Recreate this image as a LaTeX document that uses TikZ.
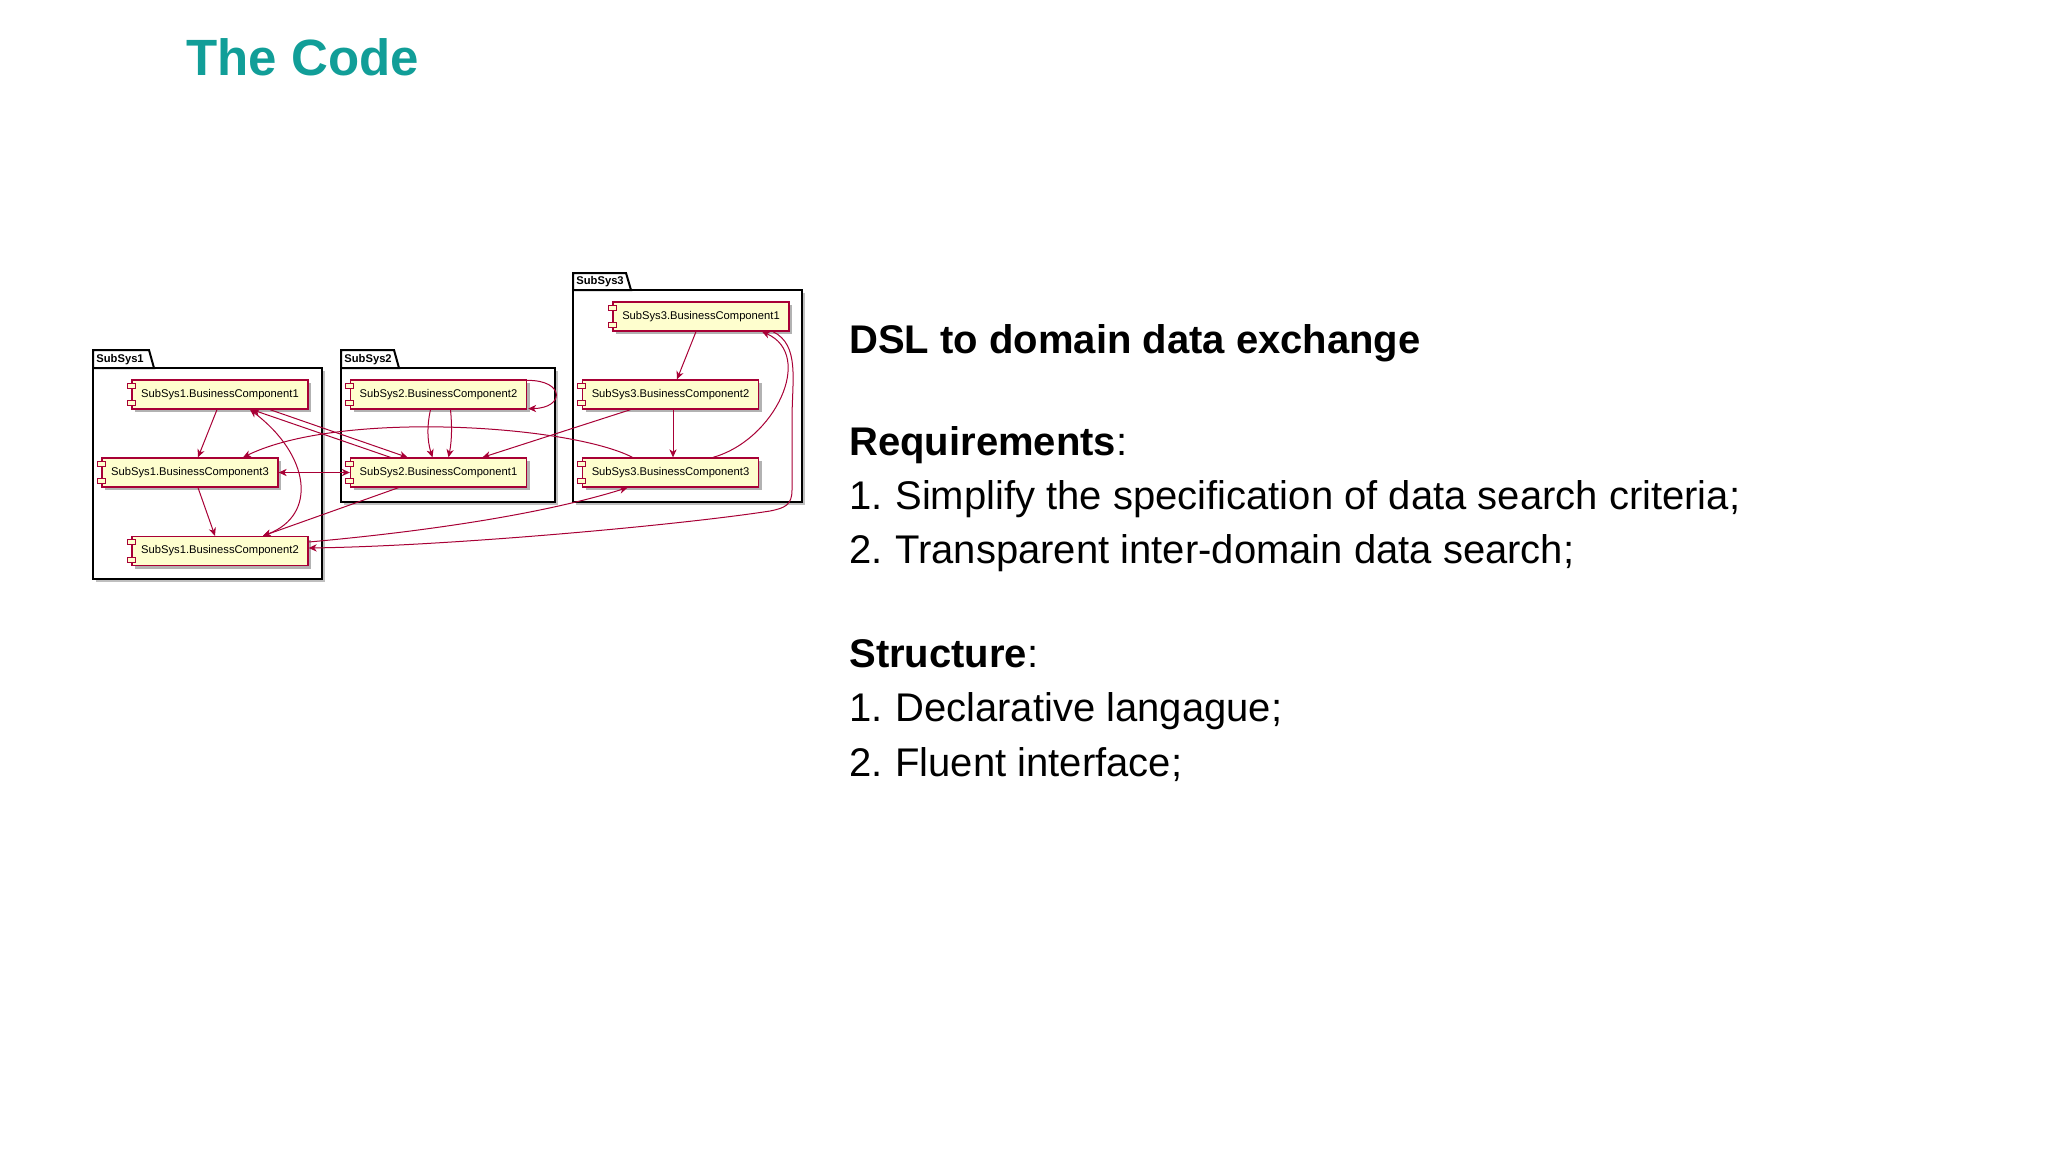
\documentclass[tikz,border=0pt]{standalone}
\usepackage{fontspec}
\setmainfont{Liberation Sans}
\definecolor{UmlRed}{HTML}{A80036}
\definecolor{UmlYellow}{HTML}{FEFECE}
\definecolor{TitleTeal}{HTML}{119E98}
\usetikzlibrary{arrows.meta, calc, shadows}
\tikzset{
  comp/.style={draw=UmlRed, line width=0.65pt, fill=UmlYellow, minimum width=88pt, minimum height=14.5pt, inner sep=0pt, font=\fontsize{5.6pt}{6.5pt}\selectfont, drop shadow={shadow xshift=1.5pt, shadow yshift=-1.5pt, fill=black, opacity=0.3}},
  icon/.style={draw=UmlRed, line width=0.5pt, fill=UmlYellow},
  pkg/.style={draw=black, line width=1pt, fill=white},
  pkglabel/.style={anchor=west, inner sep=0pt, font=\bfseries\fontsize{5.6pt}{6.5pt}\selectfont},
  dep/.style={-{Stealth[length=4pt, width=3.6pt, inset=1.2pt]}, draw=UmlRed, line width=0.5pt},
  bidep/.style={{Stealth[length=4pt, width=3.6pt, inset=1.2pt]}-{Stealth[length=4pt, width=3.6pt, inset=1.2pt]}, draw=UmlRed, line width=0.5pt},
  bodytext/.style={anchor=base west, inner sep=0pt, font=\fontsize{20pt}{24pt}\selectfont}
}
\begin{document}
\begin{tikzpicture}[x=0.5pt, y=-0.5pt]
\useasboundingbox[fill=white] (0,0) rectangle (2048,1152);

% packages
\fill[black!25] (96,371) rectangle (325,582);
\draw[pkg] (93,368) rectangle (322,579);
\draw[pkg] (93,368) -- (93,350) -- (149,350) -- (154,368) -- cycle;
\node[pkglabel] (p1) at (96,359.5) {SubSys1};

\fill[black!25] (344,371) rectangle (558,505);
\draw[pkg] (341,368) rectangle (555,502);
\draw[pkg] (341,368) -- (341,350) -- (394,350) -- (399,368) -- cycle;
\node[pkglabel] (p2) at (344,359.5) {SubSys2};

\fill[black!25] (576,293) rectangle (805,505);
\draw[pkg] (573,290) rectangle (802,502);
\draw[pkg] (573,290) -- (573,273) -- (626,273) -- (631,290) -- cycle;
\node[pkglabel] (p3) at (576,281.5) {SubSys3};

% components
\node[comp] (a1) at (220,394.5) {SubSys1.BusinessComponent1};
\node[comp] (a3) at (190,472.5) {SubSys1.BusinessComponent3};
\node[comp] (a2) at (220,551) {SubSys1.BusinessComponent2};
\node[comp] (b2) at (438.5,394.5) {SubSys2.BusinessComponent2};
\node[comp] (b1) at (438.5,472.5) {SubSys2.BusinessComponent1};
\node[comp] (c1) at (701,316.5) {SubSys3.BusinessComponent1};
\node[comp] (c2) at (670.5,394.5) {SubSys3.BusinessComponent2};
\node[comp] (c3) at (670.5,472.5) {SubSys3.BusinessComponent3};

\foreach \n in {a1,a2,a3,b1,b2,c1,c2,c3} {
  \draw[icon] ($(\n.north west)+(-4,4)$) rectangle ++(8,5);
  \draw[icon] ($(\n.south west)+(-4,-9)$) rectangle ++(8,5);
}

% dependencies
\draw[dep] ($(a1.south)+(-3,0)$) -- ($(a3.north)+(8,0)$);
\draw[dep] ($(a3.south)+(8,0)$) -- ($(a2.north)+(-5,0)$);
\draw[bidep] ($(a2.north)+(43,0)$) .. controls (318,515) and (310,455) .. ($(a1.south)+(30,0)$);
\draw[dep] ($(a1.south)+(50,0)$) -- ($(b1.north)+(-31,0)$);
\draw[dep] ($(b1.north)+(-48,0)$) -- ($(a1.south)+(32,0)$);
\draw[bidep] (a3.east) -- (b1.west);
\draw[dep] ($(b1.south)+(-40,0)$) -- ($(a2.north)+(43,0)$);
\draw[dep] ($(b2.north east)+(0,1)$) .. controls (565,380) and (565,408) .. ($(b2.south east)+(1,-1)$);
\draw[dep] ($(b2.south)+(-8,0)$) .. controls (427,425) and (427,440) .. ($(b1.north)+(-6,0)$);
\draw[dep] ($(b2.south)+(12,0)$) .. controls (452,425) and (452,440) .. ($(b1.north)+(10,0)$);
\draw[dep] ($(c2.south)+(-40,0)$) -- ($(b1.north)+(44,0)$);
\draw[dep] ($(c3.north)+(-38,0)$) .. controls (570,425) and (340,410) .. ($(a3.north)+(53,0)$);
\draw[dep] ($(c1.south)+(-5,0)$) -- ($(c2.north)+(6.5,0)$);
\draw[dep] ($(c2.south)+(2.5,0)$) -- ($(c3.north)+(2.5,0)$);
\draw[dep] ($(c3.north)+(42.5,0)$) .. controls (775,440) and (815,355) .. ($(c1.south)+(61,0)$);
\draw[dep] ($(c1.south)+(72,0)$) .. controls (800,345) and (792,380) .. (792,420) -- (792,490)
  .. controls (792,505) and (785,508) .. (770,511) .. controls (680,525) and (450,546) .. ($(a2.east)+(0,-3)$);
\draw[dep] ($(a2.east)+(0,-9)$) .. controls (420,532) and (540,515) .. ($(c3.south)+(-43,0)$);

% text
\node[anchor=base west, inner sep=0pt, text=TitleTeal, font=\bfseries\fontsize{25.5pt}{30pt}\selectfont] (title) at (186,75) {The Code};
\node[bodytext, font=\bfseries\fontsize{20pt}{24pt}\selectfont] (dsl) at (849,353) {DSL to domain data exchange};
\node[bodytext] (req) at (849,455) {\textbf{Requirements}:};
\node[bodytext] (r1) at (849,509) {\makebox[23pt][l]{1.}Simplify the specification of data search criteria;};
\node[bodytext] (r2) at (849,563) {\makebox[23pt][l]{2.}Transparent inter-domain data search;};
\node[bodytext] (str) at (849,667) {\textbf{Structure}:};
\node[bodytext] (s1) at (849,721) {\makebox[23pt][l]{1.}Declarative langague;};
\node[bodytext] (s2) at (849,776) {\makebox[23pt][l]{2.}Fluent interface;};
\end{tikzpicture}
\end{document}
